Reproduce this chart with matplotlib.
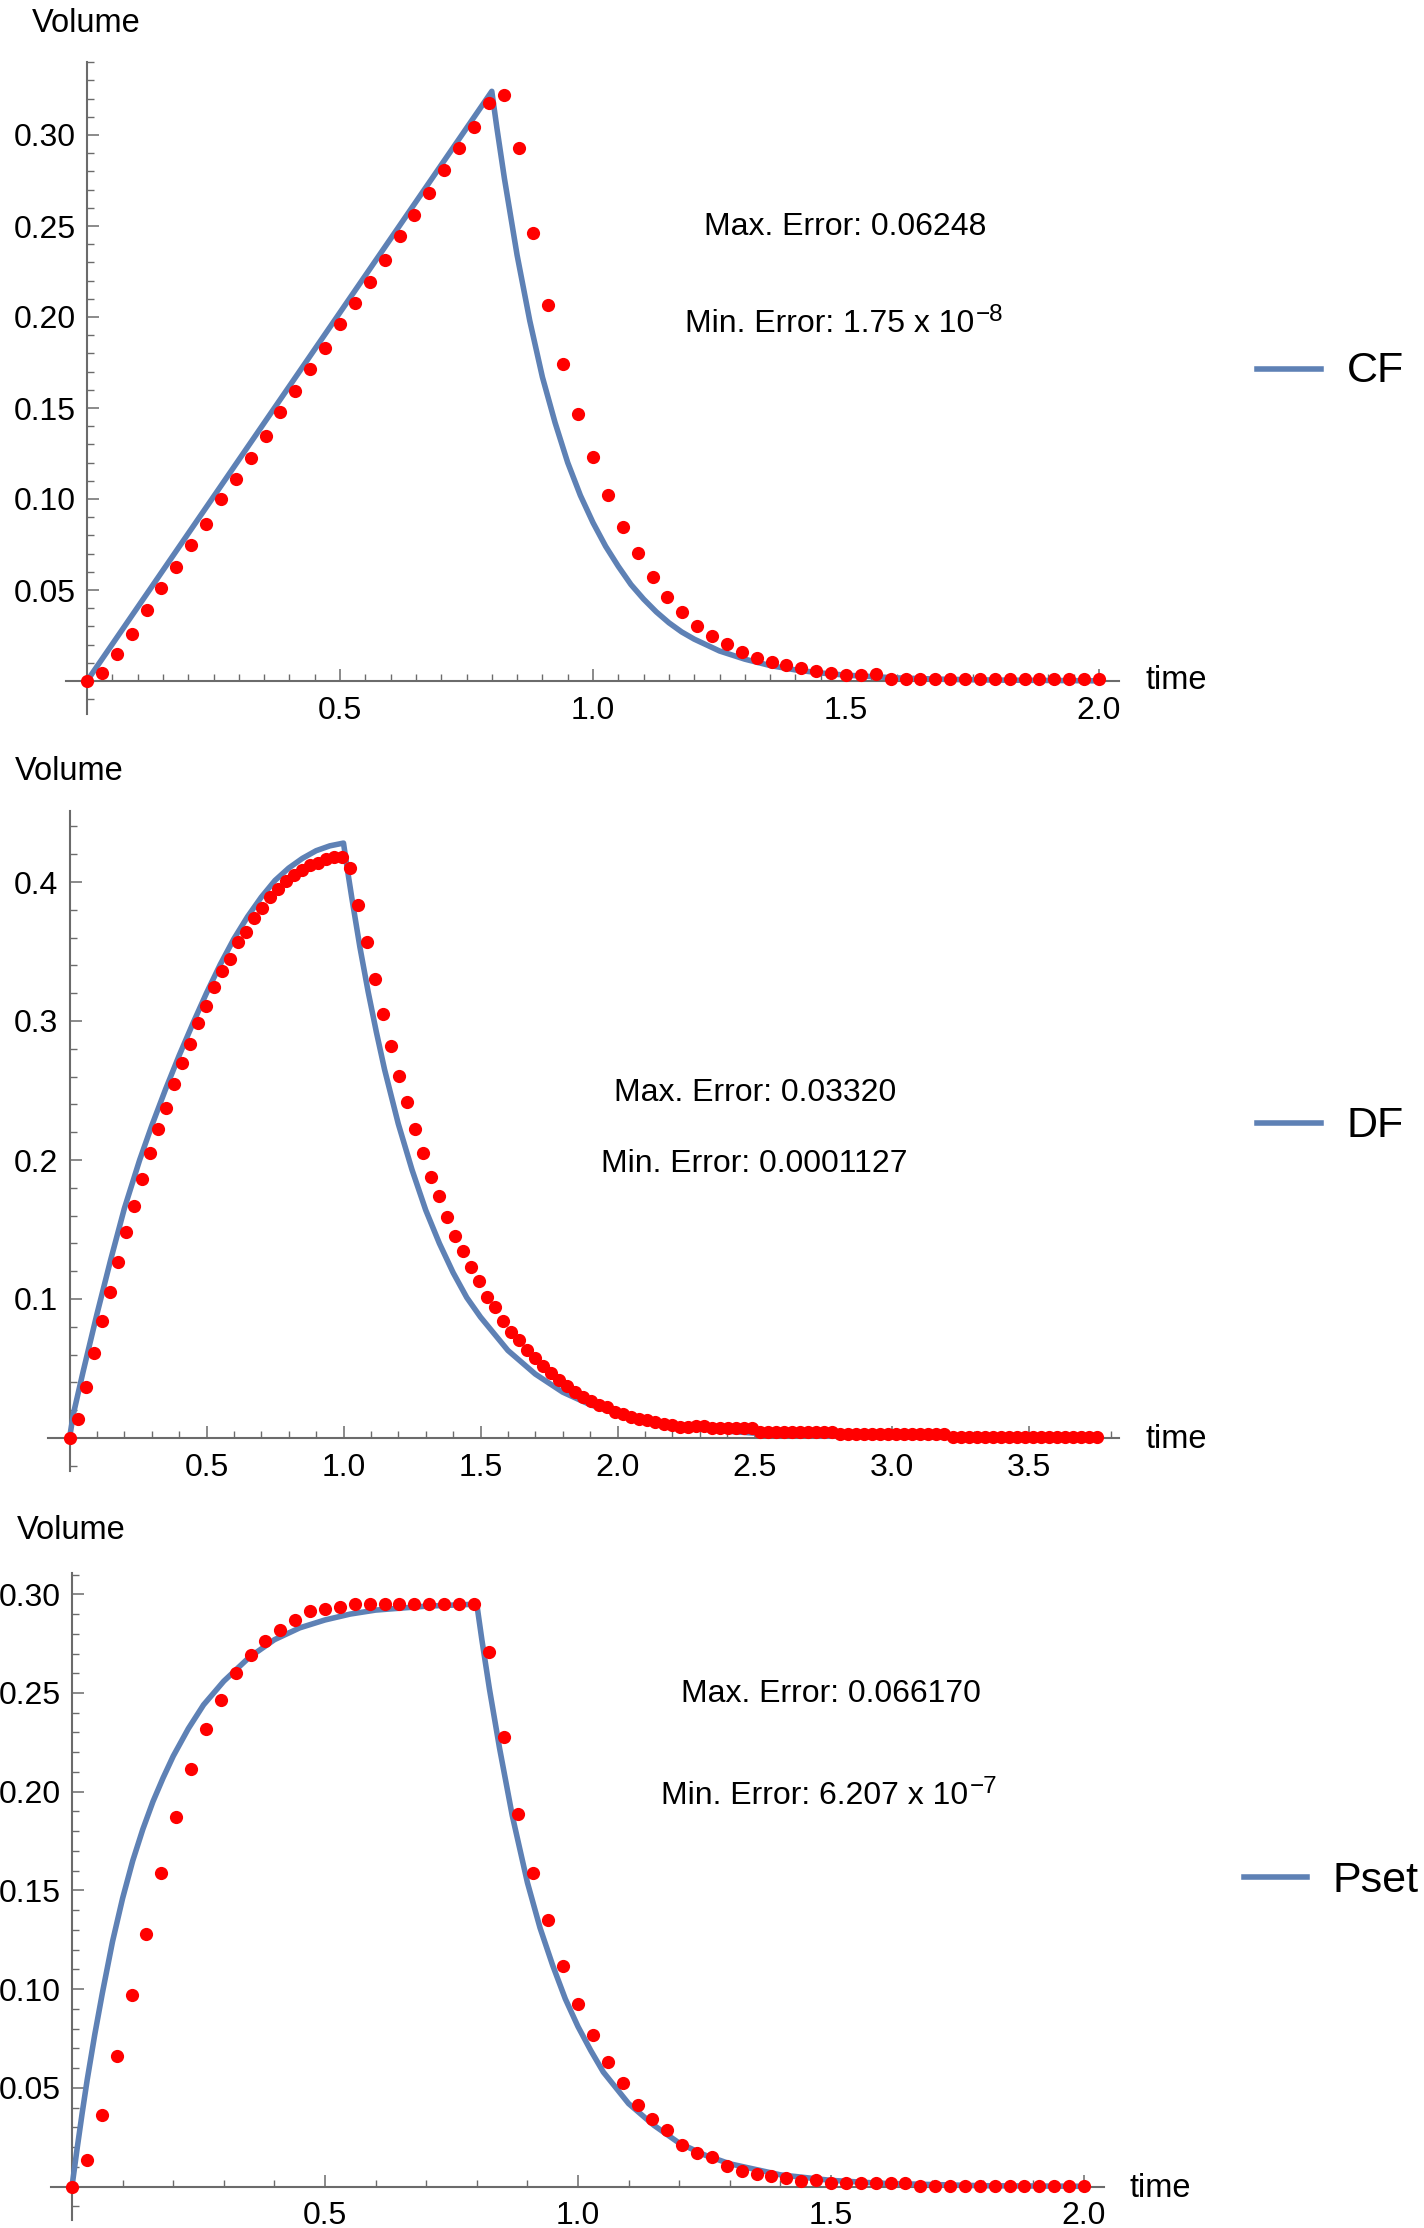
import numpy as np
import matplotlib
matplotlib.use("Agg")
import matplotlib.pyplot as plt
from matplotlib.lines import Line2D
from matplotlib.ticker import FixedLocator, MultipleLocator, FormatStrFormatter

plt.rcParams['font.family'] = ['Liberation Sans', 'DejaVu Sans']

W, H = 1424, 2228
BLUE = '#5E81B5'
AXC = '#6b6b6b'

# ---------------- data ----------------
# Panel 1 (CF)
cf_line_t = [0, 0.8, 0.81, 0.825, 0.85, 0.875, 0.9, 0.925, 0.95, 0.975, 1.0,
             1.025, 1.05, 1.075, 1.1, 1.125, 1.15, 1.175, 1.2, 1.25, 1.3, 1.35,
             1.4, 1.45, 1.5, 1.6, 1.7, 1.8, 1.9, 2.0]
cf_line_v = [0, 0.324, 0.304, 0.276, 0.234, 0.198, 0.167, 0.142, 0.120, 0.102,
             0.087, 0.074, 0.063, 0.053, 0.045, 0.038, 0.032, 0.027, 0.023,
             0.0165, 0.012, 0.0085, 0.0061, 0.0044, 0.0032, 0.0017, 0.0009,
             0.0005, 0.0003, 0.0001]
cf_dots_v = [0, 0.0046, 0.0146, 0.026, 0.039, 0.0513, 0.0628, 0.0747, 0.0863,
             0.0998, 0.1112, 0.1227, 0.1346, 0.1476, 0.1595, 0.1714, 0.1831,
             0.1962, 0.2079, 0.2194, 0.2313, 0.2445, 0.2562, 0.268, 0.2809,
             0.2927, 0.3046, 0.3178, 0.322, 0.293, 0.246, 0.2064, 0.1742,
             0.1465, 0.1229, 0.1022, 0.0848, 0.0702, 0.057, 0.0463, 0.0377,
             0.0304, 0.0247, 0.0201, 0.0161, 0.0128, 0.0103, 0.0086, 0.007,
             0.0055, 0.0042, 0.0033, 0.0033, 0.0037, 0.001, 0.001, 0.001,
             0.001, 0.001, 0.001, 0.001, 0.001, 0.001, 0.001, 0.001, 0.001,
             0.001, 0.001, 0.001]
cf_dots_t = np.linspace(0, 2.0, len(cf_dots_v))

# Panel 2 (DF)
df_line_t = [0, 0.015, 0.05, 0.1, 0.15, 0.2, 0.256, 0.3, 0.35, 0.4, 0.45, 0.5,
             0.55, 0.6, 0.65, 0.7, 0.75, 0.8, 0.85, 0.9, 0.95, 1.0,
             1.015, 1.03, 1.06, 1.09, 1.12, 1.15, 1.2, 1.25, 1.3, 1.35, 1.4,
             1.45, 1.5, 1.6, 1.7, 1.8, 1.9, 2.0, 2.1, 2.2, 2.3, 2.4, 2.5, 2.75,
             3.0, 3.4, 3.75]
df_line_v = [0, 0.018, 0.048, 0.089, 0.128, 0.165, 0.2, 0.2246, 0.2506, 0.2751,
             0.2981, 0.3201, 0.3406, 0.3591, 0.3751, 0.3891, 0.4011, 0.410,
             0.417, 0.4225, 0.426, 0.428,
             0.408, 0.389, 0.353, 0.321, 0.292, 0.265, 0.226, 0.193, 0.164,
             0.140, 0.119, 0.101, 0.087, 0.063, 0.046, 0.033, 0.024, 0.0175,
             0.0127, 0.0092, 0.0067, 0.0049, 0.0035, 0.0016, 0.0007, 0.0002,
             0.0001]
df_dots_v = [0, 0.0134, 0.0365, 0.0614, 0.0842, 0.1053, 0.1266, 0.148, 0.1671,
             0.1861, 0.2053, 0.2225, 0.2376, 0.2549, 0.27, 0.2837, 0.2988,
             0.3106, 0.3242, 0.3357, 0.3448, 0.3566, 0.3643, 0.3739, 0.3815,
             0.3892, 0.3947, 0.4007, 0.4048, 0.4086, 0.4122, 0.4139, 0.4165,
             0.4182, 0.4177, 0.4103, 0.3835, 0.3566, 0.33, 0.3048, 0.282,
             0.2606, 0.2417, 0.2225, 0.2053, 0.188, 0.174, 0.1592, 0.1453,
             0.1348, 0.1228, 0.1132, 0.1017, 0.0945, 0.0842, 0.0765, 0.0705,
             0.0633, 0.0573, 0.0518, 0.047, 0.0417, 0.0374, 0.0329, 0.0293,
             0.0263, 0.0238, 0.022, 0.019, 0.017, 0.0152, 0.0137, 0.0133,
             0.0114, 0.0099, 0.0093, 0.0082, 0.0081, 0.0084, 0.0086,
             0.0074, 0.0074, 0.0074, 0.0074, 0.0074, 0.0074,
             0.0045, 0.0045, 0.0045, 0.0045, 0.0045, 0.0045, 0.0045, 0.0045,
             0.0045, 0.0045,
             0.0027, 0.0027, 0.0027, 0.0027, 0.0027, 0.0027, 0.0027, 0.0027,
             0.0027, 0.0027, 0.0027, 0.0027, 0.0027, 0.0027,
             0.001, 0.001, 0.001, 0.001, 0.001, 0.001, 0.001, 0.001, 0.001,
             0.001, 0.001, 0.001, 0.001, 0.001, 0.001, 0.001, 0.001, 0.001,
             0.001]
df_dots_t = np.linspace(0, 3.75, len(df_dots_v))

# Panel 3 (Pset)
ps_line_t = [0, 0.01, 0.02, 0.03, 0.045, 0.06, 0.08, 0.1, 0.12, 0.14, 0.16,
             0.18, 0.2, 0.23, 0.26, 0.3, 0.35, 0.4, 0.45, 0.5, 0.55, 0.6, 0.7,
             0.8, 0.81, 0.825, 0.845, 0.87, 0.9, 0.925, 0.95, 0.975, 1.0,
             1.025, 1.05, 1.075, 1.1, 1.15, 1.2, 1.25, 1.3, 1.4, 1.5, 1.6,
             1.8, 2.0]
ps_line_v = [0, 0.019, 0.037, 0.054, 0.077, 0.098, 0.124, 0.146, 0.165, 0.181,
             0.195, 0.207, 0.218, 0.232, 0.244, 0.256, 0.268, 0.277, 0.283,
             0.287, 0.290, 0.292, 0.294, 0.295,
             0.277, 0.252, 0.222, 0.188, 0.154, 0.131, 0.112, 0.095, 0.081,
             0.069, 0.058, 0.050, 0.042, 0.031, 0.022, 0.016, 0.0115, 0.0059,
             0.0031, 0.0016, 0.0004, 0.0001]
ps_dots_v = [0, 0.0132, 0.036, 0.0659, 0.0968, 0.128, 0.159, 0.1874, 0.2116,
             0.2317, 0.2465, 0.2602, 0.2695, 0.2764, 0.2818, 0.2872, 0.2913,
             0.2926, 0.2938, 0.2952, 0.2952, 0.2952, 0.2952, 0.2952, 0.2952,
             0.2952, 0.2952, 0.2952, 0.2709, 0.2276, 0.1886, 0.159, 0.1352,
             0.1116, 0.0925, 0.0765, 0.063, 0.0523, 0.0415, 0.0343, 0.0284,
             0.0211, 0.0171, 0.0149, 0.0103, 0.0078, 0.0064, 0.0055, 0.0042,
             0.0030, 0.0031, 0.0017, 0.0018, 0.0016, 0.0018, 0.0018, 0.0020,
             0.0003, 0.0003, 0.0003, 0.0003, 0.0003, 0.0003, 0.0003, 0.0003,
             0.0003, 0.0003, 0.0003, 0.0003]
ps_dots_t = np.linspace(0, 2.0, len(ps_dots_v))

x_ticks_2 = [0.5, 1.0, 1.5, 2.0]
x_ticks_375 = [0.5, 1.0, 1.5, 2.0, 2.5, 3.0, 3.5]
y_ticks_cf = [0.05, 0.10, 0.15, 0.20, 0.25, 0.30]
y_ticks_df = [0.1, 0.2, 0.3, 0.4]
y_ticks_ps = [0.05, 0.10, 0.15, 0.20, 0.25, 0.30]

series_names = ['CF', 'DF', 'Pset']
max_err = ['Max. Error: 0.06248', 'Max. Error: 0.03320', 'Max. Error: 0.066170']
min_err_base = ['Min. Error: 1.75 x 10', 'Min. Error: 0.0001127',
                'Min. Error: 6.207 x 10']
min_err_exp = ['\u22128', '', '\u22127']

# ---------------- figure ----------------
fig = plt.figure(figsize=(W / 100, H / 100), dpi=100)
renderer = fig.canvas.get_renderer()


def make_axes(ox, xs, oy, ys, xlim, ylim, xt, yt, xfmt, yfmt, xminor, yminor):
    left = ox + xlim[0] * xs
    right = ox + xlim[1] * xs
    top = oy - ylim[1] * ys
    bottom = oy - ylim[0] * ys
    ax = fig.add_axes([left / W, 1 - bottom / H, (right - left) / W, (bottom - top) / H])
    ax.set_xlim(*xlim)
    ax.set_ylim(*ylim)
    for s in ['top', 'right']:
        ax.spines[s].set_visible(False)
    for s in ['left', 'bottom']:
        ax.spines[s].set_position(('data', 0))
        ax.spines[s].set_color(AXC)
        ax.spines[s].set_linewidth(1.5)
    ax.xaxis.set_major_locator(FixedLocator(xt))
    ax.yaxis.set_major_locator(FixedLocator(yt))
    ax.xaxis.set_minor_locator(MultipleLocator(xminor))
    ax.yaxis.set_minor_locator(MultipleLocator(yminor))
    ax.xaxis.set_major_formatter(FormatStrFormatter(xfmt))
    ax.yaxis.set_major_formatter(FormatStrFormatter(yfmt))
    ax.tick_params(axis='both', which='major', direction='in', length=8.6,
                   width=1.1, color=AXC, labelsize=23, labelcolor='black')
    ax.tick_params(axis='both', which='minor', direction='in', length=5,
                   width=1.0, color=AXC)
    ax.tick_params(axis='x', which='major', pad=10.5)
    ax.tick_params(axis='y', which='major', pad=8.0)
    ax.patch.set_alpha(0)
    return ax


panels = [
    dict(ox=87, xs=506, oy=681, ys=1820, xlim=(-0.042, 2.04), ylim=(-0.018, 0.34),
         xt=x_ticks_2, yt=y_ticks_cf, xfmt='%.1f', yfmt='%.2f', xminor=0.05, yminor=0.01,
         lt=cf_line_t, lv=cf_line_v, dt=cf_dots_t, dv=cf_dots_v,
         vol=(32, 31.7), time=(1146, 689),
         mx=(845.6, 235), mn=(844, 332),
         leg=(1257, 1321, 369, 1347, 382.5)),
    dict(ox=69.5, xs=274, oy=1438, ys=1390, xlim=(-0.08, 3.83), ylim=(-0.024, 0.451),
         xt=x_ticks_375, yt=y_ticks_df, xfmt='%.1f', yfmt='%.1f', xminor=0.1, yminor=0.02,
         lt=df_line_t, lv=df_line_v, dt=df_dots_t, dv=df_dots_v,
         vol=(14.5, 780), time=(1146, 1448),
         mx=(755.5, 1100.7), mn=(754, 1171.7),
         leg=(1257, 1321, 1122.7, 1347, 1137.3)),
    dict(ox=72, xs=506, oy=2186.5, ys=1974, xlim=(-0.041, 2.04), ylim=(-0.017, 0.311),
         xt=x_ticks_2, yt=y_ticks_ps, xfmt='%.1f', yfmt='%.2f', xminor=0.1, yminor=0.01,
         lt=ps_line_t, lv=ps_line_v, dt=ps_dots_t, dv=ps_dots_v,
         vol=(17, 1539.3), time=(1130, 2197),
         mx=(830.7, 1701.7), mn=(829, 1804),
         leg=(1244, 1307, 1877, 1333, 1891.7)),
]

for i, p in enumerate(panels):
    ax = make_axes(p['ox'], p['xs'], p['oy'], p['ys'], p['xlim'], p['ylim'],
                   p['xt'], p['yt'], p['xfmt'], p['yfmt'], p['xminor'], p['yminor'])
    ax.plot(p['lt'], p['lv'], color=BLUE, lw=4.0, solid_joinstyle='round',
            solid_capstyle='round', zorder=3, clip_on=False)
    ax.plot(p['dt'], p['dv'], linestyle='none', marker='o', markersize=9.5,
            markerfacecolor='#ff0000', markeredgewidth=0, zorder=4, clip_on=False)

    fig.text(p['vol'][0] / W, 1 - p['vol'][1] / H, 'Volume', fontsize=23.5,
             ha='left', va='baseline')
    fig.text(p['time'][0] / W, 1 - p['time'][1] / H, 'time', fontsize=23.5,
             ha='left', va='baseline')
    fig.text(p['mx'][0] / W, 1 - p['mx'][1] / H, max_err[i], fontsize=23,
             ha='center', va='baseline')

    # Min. Error line with a raised exponent
    cx, by = p['mn']
    t_main = fig.text(0, 0, min_err_base[i], fontsize=23, ha='left', va='baseline')
    wm = t_main.get_window_extent(renderer).width
    if min_err_exp[i]:
        t_sup = fig.text(0, 0, min_err_exp[i], fontsize=17.5, ha='left', va='baseline')
        ws = t_sup.get_window_extent(renderer).width
        gap = 2
        left = cx - (wm + gap + ws) / 2
        t_sup.set_position(((left + wm + gap) / W, 1 - (by - 11) / H))
    else:
        left = cx - wm / 2
    t_main.set_position((left / W, 1 - by / H))

    x1, x2, ly, tx, ty = p['leg']
    fig.add_artist(Line2D([x1 / W, x2 / W], [1 - ly / H, 1 - ly / H],
                          transform=fig.transFigure, color=BLUE, lw=4.0))
    fig.text(tx / W, 1 - ty / H, series_names[i], fontsize=31, ha='left',
             va='baseline')

fig.savefig('out.png', dpi=100, facecolor='white')
